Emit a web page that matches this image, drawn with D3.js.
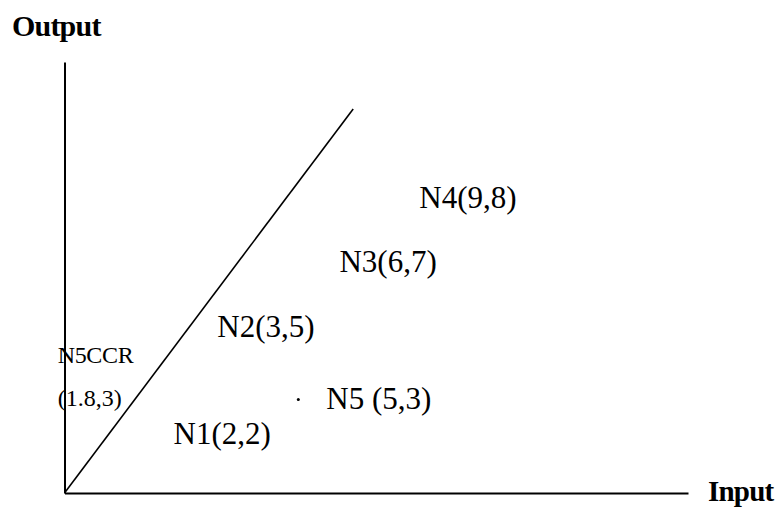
<!DOCTYPE html>
<html lang="en">
<head>
<meta charset="UTF-8">
<title>CCR frontier</title>
<style>
  html, body { margin: 0; padding: 0; background: #fff; }
</style>
</head>
<body>
<svg id="chart"></svg>
<script src="https://cdn.jsdelivr.net/npm/d3@7"></script>
<script>
// DMU data (input, output)
var names   = ["N1", "N2", "N3", "N4", "N5"];
var inputs  = [2, 3, 6, 9, 5];
var outputs = [2, 5, 7, 8, 3];
var labels  = ["N1(2,2)", "N2(3,5)", "N3(6,7)", "N4(9,8)", "N5 (5,3)"];
// where each label sits in the sketch (data units, schematic)
var labelX  = [1.75, 2.45, 4.41, 5.69, 4.20];
var labelY  = [1.14, 3.63, 5.13, 6.61, 1.95];
// N5 projected onto the CCR frontier
var projName  = "N5CCR";
var projLabel = "(1.8,3)";
var projAt    = [-0.11, 3.02, 2.02];   // x, y of first line, y of second line
var projDot   = [3.75, 2.17];
// frontier ray from origin
var frontier  = [[0, 0], [4.63, 8.91]];

var width = 778, height = 507;
var serif = "'Liberation Serif', 'Times New Roman', Times, 'DejaVu Serif', serif";

var svg = d3.select("#chart")
  .attr("width", width)
  .attr("height", height);

var x = d3.scaleLinear().domain([0, 10]).range([64.5, 688]);
var y = d3.scaleLinear().domain([0, 10]).range([493, 62]);

// axes: plain lines, no ticks
svg.append("g")
  .attr("transform", "translate(0," + y(0) + ")")
  .call(d3.axisBottom(x).tickValues([]).tickSizeOuter(0));
svg.append("g")
  .attr("transform", "translate(" + x(0) + ",0)")
  .call(d3.axisLeft(y).tickValues([]).tickSizeOuter(0));
svg.selectAll(".domain")
  .attr("stroke", "#000")
  .attr("stroke-width", 2);

// axis titles
svg.append("text")
  .attr("x", 12).attr("y", 36)
  .style("font-family", serif)
  .attr("font-size", 30).attr("font-weight", "bold")
  .attr("letter-spacing", -0.8)
  .text("Output");
svg.append("text")
  .attr("x", 708).attr("y", 501)
  .style("font-family", serif)
  .attr("font-size", 29).attr("font-weight", "bold")
  .attr("letter-spacing", -0.8)
  .text("Input");

// CCR frontier line
var line = d3.line()
  .x(function(d) { return x(d[0]); })
  .y(function(d) { return y(d[1]); });
svg.append("path")
  .datum(frontier)
  .attr("d", line)
  .attr("fill", "none")
  .attr("stroke", "#000")
  .attr("stroke-width", 1.6);

// DMU labels
svg.selectAll("text.dmu")
  .data(names)
  .enter()
  .append("text")
  .attr("class", "dmu")
  .attr("x", function(d, i) { return x(labelX[i]); })
  .attr("y", function(d, i) { return y(labelY[i]); })
  .style("font-family", serif)
  .attr("font-size", 31)
  .text(function(d, i) { return labels[i]; });

// small dot beside N5
svg.append("circle")
  .attr("cx", x(projDot[0]))
  .attr("cy", y(projDot[1]))
  .attr("r", 1.5)
  .attr("fill", "#000");

// projection label
svg.append("text")
  .attr("x", x(projAt[0])).attr("y", y(projAt[1]))
  .style("font-family", serif)
  .attr("font-size", 24)
  .attr("letter-spacing", -0.3)
  .text(projName);
svg.append("text")
  .attr("x", x(projAt[0])).attr("y", y(projAt[2]))
  .style("font-family", serif)
  .attr("font-size", 24)
  .text(projLabel);
</script>
</body>
</html>
